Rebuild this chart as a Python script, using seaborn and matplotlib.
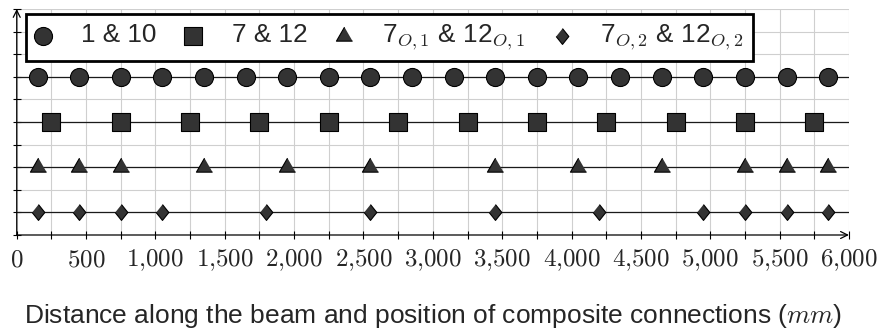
import matplotlib
matplotlib.use("Agg")
import matplotlib.pyplot as plt
from matplotlib.ticker import FixedLocator, NullFormatter
import pandas as pd
import seaborn as sns

# ---------------- data ----------------
series_labels = ["1 & 10", "7 & 12", "7$_{O,1}$ & 12$_{O,1}$", "7$_{O,2}$ & 12$_{O,2}$"]
series_levels = [7, 5, 3, 1]
pos_1_10 = [150, 450, 750, 1050, 1350, 1650, 1950, 2250, 2550, 2850,
            3150, 3450, 3750, 4050, 4350, 4650, 4950, 5250, 5550, 5850]
pos_7_12 = [250, 750, 1250, 1750, 2250, 2750, 3250, 3750, 4250, 4750, 5250, 5750]
pos_o1 = [150, 450, 750, 1350, 1950, 2550, 3450, 4050, 4650, 5250, 5550, 5850]
pos_o2 = [150, 450, 750, 1050, 1800, 2550, 3450, 4200, 4950, 5250, 5550, 5850]
x_ticks = [0, 500, 1000, 1500, 2000, 2500, 3000, 3500, 4000, 4500, 5000, 5500, 6000]
x_tick_labels = ["$0$", "$500$", "$1{,}000$", "$1{,}500$", "$2{,}000$", "$2{,}500$",
                 "$3{,}000$", "$3{,}500$", "$4{,}000$", "$4{,}500$", "$5{,}000$",
                 "$5{,}500$", "$6{,}000$"]
x_label = "Distance along the beam and position of composite connections ($mm$)"

# ---------------- style ----------------
sns.set_style("white")
plt.rcParams["font.family"] = ["Liberation Sans", "DejaVu Sans"]
plt.rcParams["mathtext.fontset"] = "cm"

fig = plt.figure(figsize=(8.81, 3.33), dpi=100)
ax = fig.add_axes([0.019, 0.2943, 0.9446, 0.6787])

tri = [(0, 1.155), (-1, -0.577), (1, -0.577)]
dia = [(0, 1), (0.8, 0), (0, -1), (-0.8, 0)]
markers = ["o", "s", tri, dia]
sizes = [169, 169, 180, 130]
positions = [pos_1_10, pos_7_12, pos_o1, pos_o2]
fill = "#333333"

for lab, lvl, pos, mk, sz in zip(series_labels, series_levels, positions, markers, sizes):
    ax.axhline(lvl, color="#1a1a1a", lw=0.9, zorder=2)
    df = pd.DataFrame({"x": pos, "y": [lvl] * len(pos)})
    sns.scatterplot(data=df, x="x", y="y", marker=mk, s=sz, color=fill,
                    edgecolor="black", linewidth=0.8, label=lab, zorder=3,
                    ax=ax, clip_on=False)

ax.set_xlim(0, 6000)
ax.set_ylim(0, 10)

ax.xaxis.set_major_locator(FixedLocator(x_ticks))
ax.set_xticklabels(x_tick_labels)
ax.xaxis.set_minor_locator(FixedLocator([v for v in range(0, 6001, 250)]))
ax.yaxis.set_major_locator(FixedLocator(list(range(0, 11))))
ax.yaxis.set_major_formatter(NullFormatter())
ax.tick_params(axis="x", which="both", direction="inout", length=6, width=0.8,
               color="black", labelsize=18, pad=6, bottom=True)
ax.tick_params(axis="y", which="both", direction="inout", length=6, width=0.8,
               color="black", left=True)
ax.grid(True, which="both", color="#cfcfcf", lw=0.8, zorder=0)
ax.set_axisbelow(True)
for s in ["top", "right", "left", "bottom"]:
    ax.spines[s].set_visible(False)

arrow_kw = dict(arrowstyle="->,head_length=0.5,head_width=0.25", lw=0.9, color="black",
                shrinkA=0, shrinkB=0)
ax.annotate("", xy=(0, 1.0), xytext=(0, 0), xycoords="axes fraction",
            arrowprops=arrow_kw, annotation_clip=False)
ax.annotate("", xy=(1.0, 0), xytext=(0, 0), xycoords="axes fraction",
            arrowprops=arrow_kw, annotation_clip=False)

ax.set_xlabel(x_label, fontsize=19, labelpad=21)
ax.set_ylabel("")

leg = ax.legend(loc="upper left", bbox_to_anchor=(0.011, 0.978), ncol=4,
                fontsize=18.8, frameon=True, fancybox=False, framealpha=1,
                edgecolor="black", handlelength=0.6, handletextpad=1.16,
                columnspacing=1.12, borderpad=0.35, borderaxespad=0)
leg.get_frame().set_linewidth(2.0)
leg.set_zorder(5)

fig.savefig("out.png", dpi=100)
